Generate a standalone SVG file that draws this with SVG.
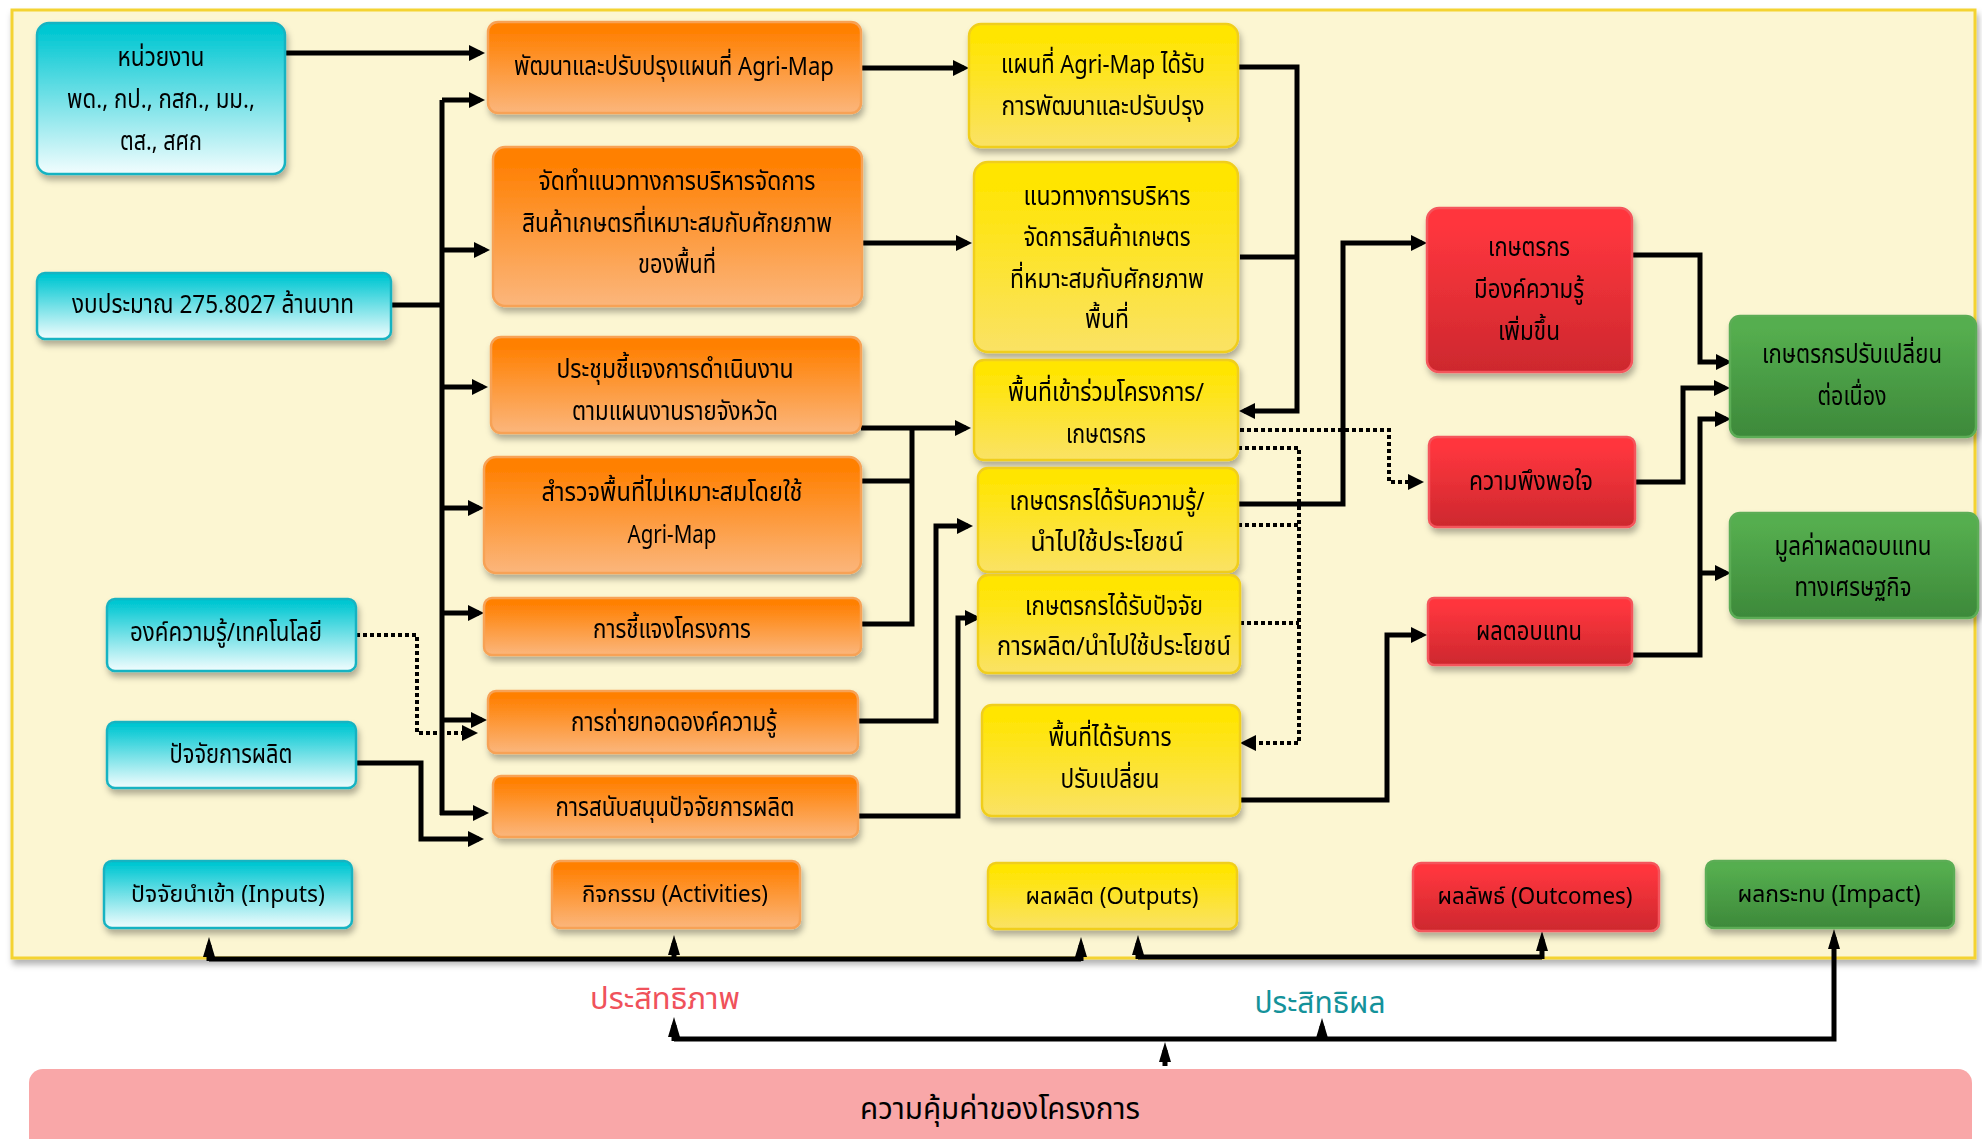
<svg xmlns="http://www.w3.org/2000/svg" width="1982" height="1139" viewBox="0 0 1982 1139">
<defs>
<linearGradient id="gc" x1="0" y1="0" x2="0" y2="1"><stop offset="0.05" stop-color="#00C7D2"/><stop offset="1" stop-color="#F2FDFE"/></linearGradient>
<linearGradient id="go" x1="0" y1="0" x2="0" y2="1"><stop offset="0.1" stop-color="#FF8002"/><stop offset="1" stop-color="#FBB67C"/></linearGradient>
<linearGradient id="gy" x1="0" y1="0" x2="0" y2="1"><stop offset="0.1" stop-color="#FFE500"/><stop offset="1" stop-color="#FAE265"/></linearGradient>
<linearGradient id="gr" x1="0" y1="0" x2="0" y2="1"><stop offset="0.1" stop-color="#FF363E"/><stop offset="1" stop-color="#CD282E"/></linearGradient>
<linearGradient id="gg" x1="0" y1="0" x2="0" y2="1"><stop offset="0.1" stop-color="#55AE4F"/><stop offset="1" stop-color="#3D893A"/></linearGradient>
<filter id="sh" x="-10%" y="-10%" width="120%" height="130%"><feDropShadow dx="2" dy="5" stdDeviation="3" flood-color="#000" flood-opacity="0.3"/></filter>
<marker id="ah" markerUnits="userSpaceOnUse" viewBox="0 0 16 16" markerWidth="16" markerHeight="16" refX="11" refY="8" orient="auto"><path d="M0,0 L16,8 L0,16 z" fill="#000"/></marker>
<marker id="au" markerUnits="userSpaceOnUse" viewBox="0 0 20 12" markerWidth="20" markerHeight="12" refX="12" refY="6" orient="auto"><path d="M0,0 L20,6 L0,12 z" fill="#000"/></marker>
</defs>
<style>
text{font-family:'Noto Sans Thai','Noto Sans',sans-serif;text-anchor:middle;fill:#000}
.t{font-size:26px}
.l{font-size:23px}
.c{fill:url(#gc);stroke:#19B3C2;stroke-width:2.5}
.o{fill:url(#go);stroke:#F7A257;stroke-width:2.5}
.y{fill:url(#gy);stroke:#F0CE1E;stroke-width:2.5}
.r{fill:url(#gr);stroke:#F4555C;stroke-width:2.5}
.g{fill:url(#gg);stroke:#5CAD56;stroke-width:2.5}
.n{filter:url(#sh)}
.k{fill:none;stroke:#000;stroke-width:5;stroke-linejoin:miter}
.a{marker-end:url(#ah)}
.b{marker-end:url(#au)}
.d{fill:none;stroke:#000;stroke-width:4;stroke-dasharray:4 3}
</style>
<rect x="12" y="10" width="1963" height="948" fill="#FCF6D2" stroke="#F4D330" stroke-width="3" filter="url(#sh)"/>
<g id="connectors">
<path class="k a" d="M285,53 H480"/>
<path class="k" d="M391,305 H442 M442,100 V815"/>
<path class="k a" d="M442,100 H480"/>
<path class="k a" d="M442,250 H485"/>
<path class="k a" d="M442,387 H483"/>
<path class="k a" d="M442,508 H479"/>
<path class="k a" d="M442,613 H479"/>
<path class="k a" d="M442,720 H482"/>
<path class="k a" d="M440,813 H484"/>
<path class="d a" d="M356,635 H417 V733 H473"/>
<path class="k a" d="M356,763 H421 V839 H479"/>
<path class="k a" d="M861,68 H964"/>
<path class="k a" d="M862,243 H967"/>
<path class="k a" d="M861,428 H966"/>
<path class="k" d="M861,481 H912 M861,624 H912 V426"/>
<path class="k a" d="M858,721 H936 V526 H968"/>
<path class="k a" d="M858,816 H958 V618 H976"/>
<path class="k a" d="M1237,67 H1297 V411 H1244"/>
<path class="k" d="M1240,257 H1297"/>
<path class="k a" d="M1238,504 H1343 V243 H1422"/>
<path class="d a" d="M1240,430 H1389 V482 H1419"/>
<path class="d a" d="M1238,448 H1299 V743 H1245"/>
<path class="d" d="M1238,525 H1299 M1240,623 H1299"/>
<path class="k a" d="M1240,800 H1387 V635 H1422"/>
<path class="k a" d="M1632,255 H1700 V362 H1727"/>
<path class="k a" d="M1635,482 H1683 V388 H1725"/>
<path class="k a" d="M1632,655 H1700 V419 H1726"/>
<path class="k a" d="M1700,573 H1726"/>
<path class="k" d="M209,959 H1081"/>
<path class="k b" d="M209,961 V945"/>
<path class="k b" d="M674,961 V943"/>
<path class="k b" d="M1081,961 V945"/>
<path class="k" d="M1138,957 H1542"/>
<path class="k b" d="M1138,959 V943"/>
<path class="k b" d="M1542,959 V939"/>
<path class="k b" d="M674,1039 H1834 V937"/>
<path class="k b" d="M674,1041 V1025"/>
<path class="k b" d="M1322,1041 V1026"/>
<path class="k b" d="M1165,1066 V1050"/>
</g>
<g id="n1" class="n"><rect class="c" x="37" y="23" width="248" height="151" rx="12"/><text class="t" x="161" y="66" textLength="87" lengthAdjust="spacingAndGlyphs">หน่วยงาน</text><text class="t" x="161" y="108" textLength="188" lengthAdjust="spacingAndGlyphs">พด., กป., กสก., มม.,</text><text class="t" x="161" y="150" textLength="82" lengthAdjust="spacingAndGlyphs">ตส., สศก</text></g>
<g id="n2" class="n"><rect class="c" x="37" y="273" width="354" height="66" rx="8"/><text class="t" x="213" y="313" textLength="282" lengthAdjust="spacingAndGlyphs">งบประมาณ 275.8027 ล้านบาท</text></g>
<g id="n3" class="n"><rect class="c" x="107" y="599" width="249" height="72" rx="8"/><text class="t" x="226" y="641" textLength="192" lengthAdjust="spacingAndGlyphs">องค์ความรู้/เทคโนโลยี</text></g>
<g id="n4" class="n"><rect class="c" x="107" y="722" width="249" height="66" rx="8"/><text class="t" x="231" y="763" textLength="123" lengthAdjust="spacingAndGlyphs">ปัจจัยการผลิต</text></g>
<g id="lg1" class="n"><rect class="c" x="104" y="861" width="248" height="67" rx="8"/><text class="l" x="228" y="902" textLength="194" lengthAdjust="spacingAndGlyphs">ปัจจัยนำเข้า (Inputs)</text></g>
<g id="o1" class="n"><rect class="o" x="488" y="22" width="373" height="91" rx="10"/><text class="t" x="674" y="75" textLength="320" lengthAdjust="spacingAndGlyphs">พัฒนาและปรับปรุงแผนที่ Agri-Map</text></g>
<g id="o2" class="n"><rect class="o" x="493" y="147" width="369" height="159" rx="12"/><text class="t" x="677" y="190" textLength="277" lengthAdjust="spacingAndGlyphs">จัดทำแนวทางการบริหารจัดการ</text><text class="t" x="677" y="232" textLength="310" lengthAdjust="spacingAndGlyphs">สินค้าเกษตรที่เหมาะสมกับศักยภาพ</text><text class="t" x="677" y="273" textLength="78" lengthAdjust="spacingAndGlyphs">ของพื้นที่</text></g>
<g id="o3" class="n"><rect class="o" x="491" y="337" width="370" height="96" rx="10"/><text class="t" x="675" y="378" textLength="237" lengthAdjust="spacingAndGlyphs">ประชุมชี้แจงการดำเนินงาน</text><text class="t" x="675" y="420" textLength="206" lengthAdjust="spacingAndGlyphs">ตามแผนงานรายจังหวัด</text></g>
<g id="o4" class="n"><rect class="o" x="484" y="457" width="377" height="116" rx="12"/><text class="t" x="672" y="501" textLength="261" lengthAdjust="spacingAndGlyphs">สำรวจพื้นที่ไม่เหมาะสมโดยใช้</text><text class="t" x="672" y="543" textLength="89" lengthAdjust="spacingAndGlyphs">Agri-Map</text></g>
<g id="o5" class="n"><rect class="o" x="484" y="598" width="377" height="57" rx="8"/><text class="t" x="672" y="638" textLength="158" lengthAdjust="spacingAndGlyphs">การชี้แจงโครงการ</text></g>
<g id="o6" class="n"><rect class="o" x="488" y="691" width="370" height="62" rx="8"/><text class="t" x="674" y="731" textLength="206" lengthAdjust="spacingAndGlyphs">การถ่ายทอดองค์ความรู้</text></g>
<g id="o7" class="n"><rect class="o" x="493" y="776" width="365" height="61" rx="8"/><text class="t" x="675" y="816" textLength="239" lengthAdjust="spacingAndGlyphs">การสนับสนุนปัจจัยการผลิต</text></g>
<g id="lg2" class="n"><rect class="o" x="552" y="861" width="248" height="67" rx="8"/><text class="l" x="675" y="902" textLength="186" lengthAdjust="spacingAndGlyphs">กิจกรรม (Activities)</text></g>
<g id="y1" class="n"><rect class="y" x="969" y="24" width="269" height="123" rx="12"/><text class="t" x="1103" y="73" textLength="204" lengthAdjust="spacingAndGlyphs">แผนที่ Agri-Map ได้รับ</text><text class="t" x="1103" y="115" textLength="203" lengthAdjust="spacingAndGlyphs">การพัฒนาและปรับปรุง</text></g>
<g id="y2" class="n"><rect class="y" x="974" y="162" width="264" height="190" rx="14"/><text class="t" x="1107" y="205" textLength="167" lengthAdjust="spacingAndGlyphs">แนวทางการบริหาร</text><text class="t" x="1107" y="246" textLength="167" lengthAdjust="spacingAndGlyphs">จัดการสินค้าเกษตร</text><text class="t" x="1107" y="288" textLength="194" lengthAdjust="spacingAndGlyphs">ที่หมาะสมกับศักยภาพ</text><text class="t" x="1107" y="328" textLength="44" lengthAdjust="spacingAndGlyphs">พื้นที่</text></g>
<g id="y3" class="n"><rect class="y" x="974" y="360" width="264" height="100" rx="10"/><text class="t" x="1106" y="401" textLength="196" lengthAdjust="spacingAndGlyphs">พื้นที่เข้าร่วมโครงการ/</text><text class="t" x="1106" y="443" textLength="80" lengthAdjust="spacingAndGlyphs">เกษตรกร</text></g>
<g id="y4" class="n"><rect class="y" x="978" y="468" width="260" height="104" rx="10"/><text class="t" x="1107" y="510" textLength="195" lengthAdjust="spacingAndGlyphs">เกษตรกรได้รับความรู้/</text><text class="t" x="1107" y="551" textLength="153" lengthAdjust="spacingAndGlyphs">นำไปใช้ประโยชน์</text></g>
<g id="y5" class="n"><rect class="y" x="978" y="575" width="262" height="98" rx="10"/><text class="t" x="1114" y="615" textLength="178" lengthAdjust="spacingAndGlyphs">เกษตรกรได้รับปัจจัย</text><text class="t" x="1114" y="655" textLength="234" lengthAdjust="spacingAndGlyphs">การผลิต/นำไปใช้ประโยชน์</text></g>
<g id="y6" class="n"><rect class="y" x="982" y="705" width="258" height="111" rx="10"/><text class="t" x="1110" y="746" textLength="123" lengthAdjust="spacingAndGlyphs">พื้นที่ได้รับการ</text><text class="t" x="1110" y="788" textLength="99" lengthAdjust="spacingAndGlyphs">ปรับเปลี่ยน</text></g>
<g id="lg3" class="n"><rect class="y" x="988" y="863" width="249" height="66" rx="8"/><text class="l" x="1112" y="904" textLength="173" lengthAdjust="spacingAndGlyphs">ผลผลิต (Outputs)</text></g>
<g id="r1" class="n"><rect class="r" x="1427" y="208" width="205" height="164" rx="12"/><text class="t" x="1529" y="256" textLength="82" lengthAdjust="spacingAndGlyphs">เกษตรกร</text><text class="t" x="1529" y="298" textLength="110" lengthAdjust="spacingAndGlyphs">มีองค์ความรู้</text><text class="t" x="1529" y="340" textLength="62" lengthAdjust="spacingAndGlyphs">เพิ่มขึ้น</text></g>
<g id="r2" class="n"><rect class="r" x="1429" y="437" width="206" height="90" rx="8"/><text class="t" x="1531" y="490" textLength="124" lengthAdjust="spacingAndGlyphs">ความพึงพอใจ</text></g>
<g id="r3" class="n"><rect class="r" x="1428" y="598" width="204" height="67" rx="6"/><text class="t" x="1529" y="640" textLength="106" lengthAdjust="spacingAndGlyphs">ผลตอบแทน</text></g>
<g id="lg4" class="n"><rect class="r" x="1413" y="863" width="246" height="68" rx="8"/><text class="l" x="1535" y="904" textLength="195" lengthAdjust="spacingAndGlyphs">ผลลัพธ์ (Outcomes)</text></g>
<g id="g1" class="n"><rect class="g" x="1730" y="316" width="246" height="121" rx="10"/><text class="t" x="1852" y="363" textLength="180" lengthAdjust="spacingAndGlyphs">เกษตรกรปรับเปลี่ยน</text><text class="t" x="1852" y="405" textLength="69" lengthAdjust="spacingAndGlyphs">ต่อเนื่อง</text></g>
<g id="g2" class="n"><rect class="g" x="1730" y="513" width="248" height="105" rx="10"/><text class="t" x="1853" y="555" textLength="157" lengthAdjust="spacingAndGlyphs">มูลค่าผลตอบแทน</text><text class="t" x="1853" y="596" textLength="117" lengthAdjust="spacingAndGlyphs">ทางเศรษฐกิจ</text></g>
<g id="lg5" class="n"><rect class="g" x="1706" y="861" width="248" height="67" rx="8"/><text class="l" x="1829" y="902" textLength="183" lengthAdjust="spacingAndGlyphs">ผลกระทบ (Impact)</text></g>
<g id="worth"><rect x="29" y="1069" width="1943" height="100" rx="14" fill="#F9A7A8"/><text x="1000" y="1119" style="font-size:31px" textLength="280" lengthAdjust="spacingAndGlyphs">ความคุ้มค่าของโครงการ</text></g>
<text x="665" y="1009" style="font-size:31px;fill:#F0525B" textLength="150" lengthAdjust="spacingAndGlyphs">ประสิทธิภาพ</text>
<text x="1320" y="1013" style="font-size:31px;fill:#14929A" textLength="131" lengthAdjust="spacingAndGlyphs">ประสิทธิผล</text>
</svg>
